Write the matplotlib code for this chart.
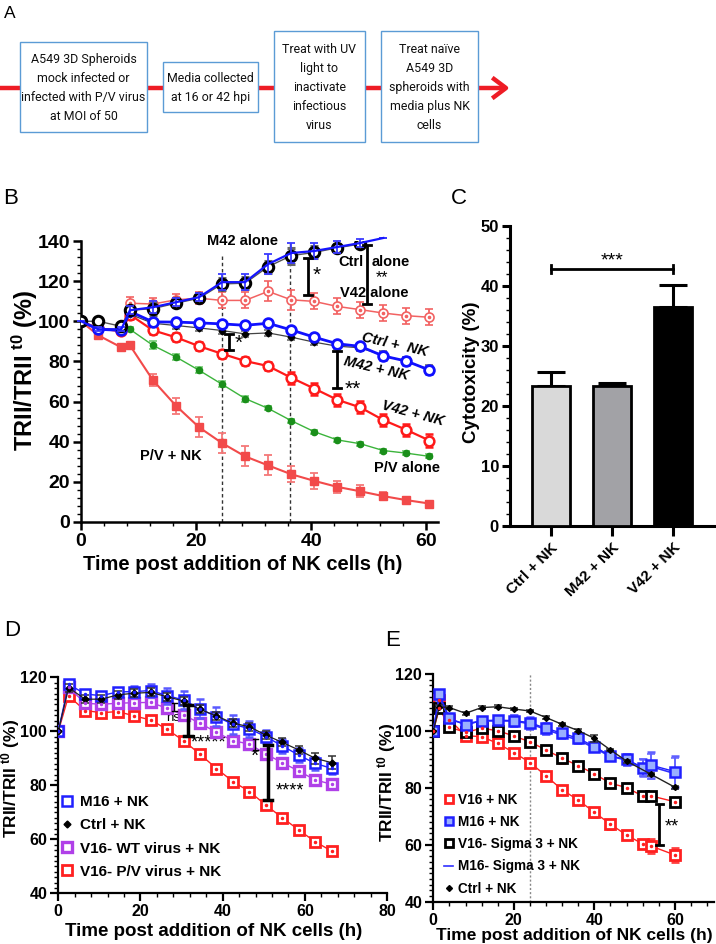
import matplotlib
matplotlib.use("Agg")
import matplotlib.pyplot as plt
from matplotlib.patches import Rectangle
from matplotlib.lines import Line2D
from matplotlib.ticker import MultipleLocator

plt.rcParams['font.family'] = ['Liberation Sans', 'DejaVu Sans']
plt.rcParams['font.weight'] = 'bold'
plt.rcParams['axes.labelweight'] = 'bold'
plt.rcParams['mathtext.fontset'] = 'custom'
plt.rcParams['mathtext.bf'] = 'Liberation Sans:bold'
plt.rcParams['mathtext.rm'] = 'Liberation Sans:bold'
plt.rcParams['mathtext.default'] = 'bf'

# ── panel A : workflow boxes ───────────────────────────────────────────────
steps = [
    "A549 3D Spheroids\nmock infected or\ninfected with P/V virus\nat MOI of 50",
    "Media collected\nat 16 or 42 hpi",
    "Treat with UV\nlight to\ninactivate\ninfectious\nvirus",
    "Treat naïve\nA549 3D\nspheroids with\nmedia plus NK\ncells",
]

# ── panel B : TRII/TRII t0 vs time ─────────────────────────────────────────
tB = [0, 3, 7, 8.5, 12.5, 16.5, 20.5, 24.5, 28.5, 32.5, 36.5, 40.5, 44.5, 48.5, 52.5, 56.5, 60.5]
ctrl_alone = [100, 100, 97.5, 105.5, 106.3, 109, 111.5, 118.6, 119, 127.2, 132.7, 134.3, 136.6, 138.5]
ctrl_alone_err = [0, 0.5, 1, 2, 3, 2, 2, 3, 3, 3, 4, 3, 2, 1]
m42_alone = [100, 96, 96, 105.5, 107, 109.5, 112, 119.5, 119.5, 128.5, 134, 135, 137, 139, 141.5]
m42_alone_err = [0, 1, 1, 2, 3, 2, 2, 4, 4, 5, 5, 4, 3, 2, 0]
v42_alone = [100, 96, 96, 109, 108.6, 110.7, 111.5, 110.4, 110.4, 114.9, 110.7, 109.9, 107.4, 105.8, 104.1, 102.8, 102]
v42_alone_err = [0, 1, 1, 3, 3, 3, 3, 4, 4, 5, 5, 4, 4, 4, 4, 4, 4]
ctrl_nk_B = [100, 96, 95.5, 104.9, 99.7, 99.6, 99.2, 98.7, 98, 99, 95.7, 92.1, 88.8, 87.5, 82.7, 80.2, 75.7]
ctrl_nk_B_err = [0, 1.5, 1.5, 2, 1.5, 1.5, 1.5, 1.5, 1.5, 1.5, 1.5, 1.5, 1.5, 1.5, 2, 2, 2]
m42_nk = [100, 96, 95.5, 103.5, 99, 97.9, 96.7, 95.4, 93.7, 94.2, 92.1, 89.6, 87.6, 86.8, 83, 80, 76]
m42_nk_err = [0, 1, 1, 2, 1.5, 1.5, 1.5, 1.5, 1.5, 1.5, 1.5, 1.5, 1.5, 1.5, 2, 2, 2]
v42_nk = [100, 96.5, 95, 103.3, 95.5, 92, 87.6, 83.8, 80.2, 77.7, 71.9, 66.5, 60.9, 57.1, 50.8, 45.9, 40.6]
v42_nk_err = [0, 1, 1, 2, 2, 2, 2, 2, 2, 2, 3, 3, 3, 3, 3, 3, 3]
pv_alone = [96, 88, 82.2, 75.6, 68.6, 61.5, 56.6, 50.5, 45, 40.9, 39, 35.6, 34.3, 32.7]
pv_alone_err = [1, 2, 1.5, 1.5, 1.5, 1.5, 1, 1, 1, 1, 1, 1, 1, 1]
pv_nk = [100, 93, 87, 88, 70.6, 57.9, 47.2, 39.3, 32.7, 28.2, 23.8, 20.5, 17.5, 15.3, 12.9, 10.9, 9.2]
pv_nk_err = [0, 1, 1, 1, 3, 4, 5, 5, 5, 5, 4, 4, 3, 3, 2, 1.5, 1.5]

# ── panel C : cytotoxicity bars ────────────────────────────────────────────
groups_C = ["Ctrl + NK", "M42 + NK", "V42 + NK"]
cyto = [23.3, 23.3, 36.5]
cyto_err = [2.3, 0.5, 3.6]

# ── panel D ────────────────────────────────────────────────────────────────
tD = [0, 2.5, 6.5, 10.5, 14.5, 18.5, 22.5, 26.5, 30.5, 34.5, 38.5, 42.5, 46.5, 50.5, 54.5, 58.5, 62.5, 66.5]
m16_D = [100, 117.5, 113.8, 113.2, 114.6, 114.7, 115.1, 113.2, 111.6, 108.3, 105.4, 102.6, 101, 98, 94.6, 91.2, 88.1, 86.3]
m16_D_err = [0, 1.5, 1.5, 1.5, 1.5, 2, 2.5, 3, 3.5, 3.5, 3.5, 3.5, 3, 2.5, 2.5, 2.5, 2.5, 2]
ctrl_D = [100, 116.2, 111.9, 111.9, 113.5, 114.1, 114.4, 112.8, 111.2, 108.1, 105.7, 103, 101.7, 98.6, 95.9, 93.1, 90, 88.4]
ctrl_D_err = [0, 1.5, 1.5, 1.5, 1.5, 1.5, 1.5, 1.5, 1.5, 1.5, 1.5, 1.5, 1.5, 1.5, 1.5, 1.5, 2, 2.5]
wt_D = [100, 116.3, 110.4, 110, 110.4, 110.6, 110.7, 108.5, 106, 103, 99.6, 96.5, 95.3, 91.6, 88.4, 85.3, 82, 80.4]
wt_D_err = [0, 1, 1, 1, 1, 1, 1, 1, 1, 1, 1, 1, 1, 1, 1, 1, 1, 1.2]
pv_D = [100, 113.1, 107.7, 106.9, 107.3, 105.7, 104.2, 100.7, 96.5, 91.5, 86.2, 81.4, 77.7, 72.7, 68, 63.5, 59.1, 55.7]
pv_D_err = [0, 0.8, 0.8, 0.8, 0.8, 0.8, 0.8, 0.8, 0.8, 0.8, 0.8, 0.8, 0.8, 0.8, 0.8, 0.8, 0.8, 0.8]

# ── panel E ────────────────────────────────────────────────────────────────
tE = [0, 1.5, 4, 8, 12, 16, 20, 24, 28, 32, 36, 40, 44, 48, 52, 54, 60]
v16_E = [100, 110.9, 104, 98.3, 98, 95.6, 92.4, 88.9, 84.2, 79.3, 75.7, 71.4, 67.2, 63.4, 60.3, 59.6, 56.4]
v16_E_err = [0, 1.5, 1.5, 1, 1, 1, 1, 1, 1.5, 1.5, 1, 1.5, 1.5, 1.5, 1.5, 2.5, 2.5]
m16_E = [100, 113, 104.4, 102.1, 103.6, 103.8, 103.6, 102.9, 100.9, 99.2, 97.4, 94.5, 91.2, 90, 87.1, 88, 85.7]
m16_E_err = [0, 1.5, 1, 1, 1, 1.5, 2, 2, 2, 1.5, 1.5, 1.5, 1.5, 2, 3, 4.5, 5.5]
v16sig_E = [100, 108, 101.3, 99.5, 100.9, 100.1, 98.2, 96.2, 93.3, 90.4, 87.8, 84.9, 81.6, 80.1, 77.1, 77.2, 75.1]
v16sig_E_err = [0, 1, 1.5, 1, 1, 1.5, 1.5, 1, 1.5, 1.5, 1, 1, 1, 1, 1, 1.5, 1]
m16sig_E = [100, 112, 104, 102.5, 103.5, 103.5, 103.5, 102.5, 100.5, 98.5, 96.8, 94, 91, 89.8, 87, 87.5, 85]
m16sig_E_err = [0, 1.5, 1, 1, 1, 1.5, 2, 2, 2, 1.5, 1.5, 1.5, 1.5, 2, 3, 4.5, 5.5]
tEc = [0, 1.5, 4, 8, 12, 16, 20, 24, 28, 32, 36, 40, 44, 48, 54, 60]
ctrl_E = [100, 108.5, 108.2, 106.2, 108.2, 108.5, 107.7, 107, 104.7, 102.3, 100.1, 97.4, 93.3, 89.4, 84.8, 80.2]
ctrl_E_err = [0, 0.5, 0.5, 0.5, 0.5, 0.5, 0.5, 0.5, 0.5, 0.5, 0.5, 1.2, 0.5, 0.5, 0.5, 0.5]

W, H = 716, 944
fig = plt.figure(figsize=(W / 100, H / 100), dpi=100)

YLAB = r"TRII/TRII$^{\ t0}$ (%)"
XLAB = "Time post addition of NK cells (h)"


def axes_px(left, top, right, bottom):
    return fig.add_axes([left / W, 1 - bottom / H, (right - left) / W, (bottom - top) / H])


def style_axes(ax, lw=1.6):
    for s in ("top", "right"):
        ax.spines[s].set_visible(False)
    for s in ("left", "bottom"):
        ax.spines[s].set_linewidth(lw)
    ax.tick_params(which="major", length=6, width=lw, direction="out")
    ax.tick_params(which="minor", length=3, width=1.0, direction="out")


def bold_ticks(ax):
    plt.setp(ax.get_xticklabels() + ax.get_yticklabels(), fontweight="bold")


def bracket(ax, x, y0, y1, lw=2.0, cap=0.8, color="black"):
    ax.plot([x, x], [y0, y1], color=color, lw=lw, solid_capstyle="butt", zorder=8)
    for y in (y0, y1):
        ax.plot([x - cap, x + cap], [y, y], color=color, lw=lw, zorder=8)


def place_labels(ax, xl, yl):
    ax.xaxis.set_label_coords(*xl)
    ax.xaxis.label.set_va("center")
    ax.yaxis.set_label_coords(*yl)
    ax.yaxis.label.set_va("center")


# ══ Panel A ═══════════════════════════════════════════════════════════════
axA = fig.add_axes([0, 0, 1, 1])
axA.set_xlim(0, W)
axA.set_ylim(H, 0)
axA.axis("off")
axA.patch.set_visible(False)
RED = "#ee1c25"
axA.plot([0, 505], [88, 88], color=RED, lw=3.2, solid_capstyle="butt", zorder=1)
axA.plot([494, 506, 494], [79, 88, 97], color=RED, lw=3.2, zorder=1)
boxes = [(20, 42, 147, 132), (163, 62, 258, 112), (274, 31, 365, 142), (381, 31, 478, 142)]
for (x0, y0, x1, y1), s in zip(boxes, steps):
    axA.add_patch(Rectangle((x0, y0), x1 - x0, y1 - y0, facecolor="white",
                            edgecolor="#5b9bd5", lw=1.0, zorder=2))
    axA.text((x0 + x1) / 2, (y0 + y1) / 2 + 1, s, ha="center", va="center", fontsize=8.9,
             family=["Liberation Sans Narrow", "Roboto"], fontweight="normal",
             linespacing=1.62, zorder=3, color="#111111")

for x, y, s, fs in [(4, 13, "A", 12.5), (3, 198, "B", 16), (451, 198, "C", 16),
                    (4, 631, "D", 16), (385, 641, "E", 16)]:
    fig.text(x / W, 1 - y / H, s, fontsize=fs, fontweight="normal", va="center", ha="left")

# ══ Panel B ═══════════════════════════════════════════════════════════════
axB = axes_px(81, 241, 438, 522)
axB.set_xlim(0, 62)
axB.set_ylim(0, 140)
style_axes(axB, lw=1.8)
axB.xaxis.set_major_locator(MultipleLocator(20))
axB.xaxis.set_minor_locator(MultipleLocator(4))
axB.yaxis.set_major_locator(MultipleLocator(20))
axB.yaxis.set_minor_locator(MultipleLocator(4))
axB.tick_params(labelsize=14, pad=2)
bold_ticks(axB)
axB.set_xlabel(XLAB, fontsize=14.5)
axB.set_ylabel(YLAB, fontsize=17)
place_labels(axB, (0.454, -0.153), (-0.158, 0.54))

axB.plot([24.5, 24.5], [0, 133], ls=(0, (2.5, 2)), color="#333333", lw=1, zorder=1)
axB.plot([36.3, 36.3], [0, 140], ls=(0, (2.5, 2)), color="#333333", lw=1, zorder=1)

ekw = dict(capsize=3, elinewidth=1.3, capthick=1.3)
axB.errorbar(tB[3:], pv_alone, yerr=pv_alone_err, color="#3cb43c", lw=1, marker="o", ms=4.5,
             mfc="#1a8f1a", mec="#1a8f1a", ecolor="#7fd07f", zorder=3, **ekw)
axB.errorbar(tB, pv_nk, yerr=pv_nk_err, color="#f24a4a", lw=1.5, marker="s", ms=6,
             mfc="#f24a4a", mec="#f24a4a", ecolor="#f57878", zorder=3, **ekw)
axB.errorbar(tB, v42_alone, yerr=v42_alone_err, color="#f26262", lw=1.1, marker="o", ms=6.5,
             mfc="white", mec="#f26262", mew=1.2, ecolor="#f26262", zorder=3, **ekw)
axB.plot(tB, v42_alone, ls="none", marker="o", ms=1.6, color="#f26262", zorder=4)
axB.errorbar(tB, v42_nk, yerr=v42_nk_err, color="#ff1a1a", lw=1.6, marker="o", ms=7,
             mfc="white", mec="#ff1a1a", mew=1.8, ecolor="#ff1a1a", zorder=4, **ekw)
axB.errorbar(tB, m42_nk, yerr=m42_nk_err, color="#444444", lw=0.9, marker="D", ms=3.5,
             mfc="black", mec="black", ecolor="#777777", zorder=4, **ekw)
axB.errorbar(tB, ctrl_nk_B, yerr=ctrl_nk_B_err, color="#1010ff", lw=2, marker="o", ms=7,
             mfc="white", mec="#1010ff", mew=2, ecolor="#4040ff", zorder=5, **ekw)
axB.errorbar(tB[:14], ctrl_alone, yerr=ctrl_alone_err, color="#555555", lw=1, marker="o", ms=7.5,
             mfc="white", mec="black", mew=2.2, ecolor="#666666", zorder=5, **ekw)
axB.errorbar(tB[:15], m42_alone, yerr=m42_alone_err, color="#1515ff", lw=1.6, ecolor="#3a3aff",
             zorder=6, clip_on=False, **ekw)

tkw = dict(fontsize=10.5, fontweight="bold", va="center")
axB.text(28.1, 140, "M42 alone", ha="center", **tkw)
axB.text(49.0, 129.3, "Ctrl", ha="right", **tkw)
axB.text(50.4, 129.3, "alone", ha="left", **tkw)
axB.text(50.9, 114.0, "V42 alone", ha="center", **tkw)
axB.text(56.6, 26.9, "P/V alone", ha="center", **tkw)
axB.text(15.6, 32.9, "P/V + NK", ha="center", **tkw)
axB.text(54.5, 88.2, "Ctrl +  NK", rotation=-13, style="italic", ha="center", **tkw)
axB.text(51.2, 76.5, "M42 + NK", rotation=-13, style="italic", ha="center", **tkw)
axB.text(57.6, 54.3, "V42 + NK", rotation=-15, style="italic", ha="center", **tkw)
bracket(axB, 39.5, 113.2, 131.6, cap=0.7)
bracket(axB, 49.65, 108.6, 137.9, cap=0.7)
bracket(axB, 25.7, 85.5, 93.5, cap=0.7)
bracket(axB, 44.4, 67, 85, cap=0.7)
skw = dict(fontsize=15, fontweight="normal", ha="center", va="center")
axB.text(41.0, 123.0, "*", **skw)
axB.text(52.3, 121.6, "**", fontsize=11.5, fontweight="normal", ha="center", va="center")
axB.text(27.4, 89.0, "*", **skw)
axB.text(47.2, 66.0, "**", **skw)

# ══ Panel C ═══════════════════════════════════════════════════════════════
axC = axes_px(510, 225.7, 716, 526)
axC.set_xlim(-0.67, 2.7)
axC.set_ylim(0, 50)
style_axes(axC, lw=2.2)
axC.yaxis.set_major_locator(MultipleLocator(10))
axC.yaxis.set_minor_locator(MultipleLocator(2))
axC.tick_params(axis="x", length=7, width=2.2)
xC = list(range(len(groups_C)))
axC.bar(xC, cyto, width=0.63, color=["#d9d9d9", "#a2a2a6", "#000000"], edgecolor="black",
        lw=2, zorder=3)
axC.errorbar(xC, cyto, yerr=[[0, 0, 0], cyto_err], fmt="none", ecolor="black", elinewidth=2.2,
             capsize=10, capthick=2.2, zorder=2)
axC.set_xticks(xC)
axC.set_xticklabels(groups_C, rotation=45, ha="right", va="top", rotation_mode="anchor",
                    fontsize=11)
axC.tick_params(axis="y", labelsize=12, pad=2)
bold_ticks(axC)
axC.set_ylabel("Cytotoxicity (%)", fontsize=13.5)
axC.yaxis.set_label_coords(-0.186, 0.513)
axC.yaxis.label.set_va("center")
axC.plot([0, 2], [42.8, 42.8], color="black", lw=2, zorder=4)
axC.plot([0, 0], [42.2, 43.4], color="black", lw=2)
axC.plot([2, 2], [42.2, 43.4], color="black", lw=2)
axC.text(1, 44.2, "***", fontsize=14, fontweight="normal", ha="center", va="center")

# ══ Panel D ═══════════════════════════════════════════════════════════════
axD = axes_px(58.3, 677.3, 387, 893.3)
axD.set_xlim(0, 80)
axD.set_ylim(40, 120)
style_axes(axD, lw=1.6)
axD.xaxis.set_major_locator(MultipleLocator(20))
axD.xaxis.set_minor_locator(MultipleLocator(4))
axD.yaxis.set_major_locator(MultipleLocator(20))
axD.yaxis.set_minor_locator(MultipleLocator(2))
axD.tick_params(labelsize=11.5, pad=2)
bold_ticks(axD)
axD.set_xlabel(XLAB, fontsize=13.5)
axD.set_ylabel(YLAB, fontsize=12.5)
place_labels(axD, (0.474, -0.179), (-0.146, 0.534))

dkw = dict(capsize=3, elinewidth=1.1, capthick=1.1)
axD.errorbar(tD, pv_D, yerr=pv_D_err, color="#ff2020", lw=1, marker="s", ms=6.5, mfc="white",
             mec="#ff2020", mew=2, ecolor="#ff2020", zorder=3, **dkw)
axD.errorbar(tD, wt_D, yerr=wt_D_err, color="#b040e8", lw=1, marker="s", ms=7, mfc="white",
             mec="#b040e8", mew=2.4, ecolor="#c070f0", zorder=3, **dkw)
axD.errorbar(tD, m16_D, yerr=m16_D_err, color="#2020ff", lw=1, marker="s", ms=7.5, mfc="white",
             mec="#2020ff", mew=1.8, ecolor="#5a5aff", zorder=4, **dkw)
axD.errorbar(tD, ctrl_D, yerr=ctrl_D_err, color="#222222", lw=0.9, marker="D", ms=3.5,
             mfc="black", mec="black", ecolor="#333333", zorder=5, **dkw)
for t, v, c in [(tD, pv_D, "#ff2020"), (tD, wt_D, "#b040e8"), (tD, m16_D, "#2020ff")]:
    axD.plot(t, v, ls="none", marker="o", ms=1.5, color=c, zorder=6)

bracket(axD, 28.2, 107.5, 110.5, lw=1.0, cap=0.6)
bracket(axD, 31.6, 98.4, 109.8, lw=2.5, cap=1.0)
bracket(axD, 47.9, 93, 97, lw=1.0, cap=0.6)
bracket(axD, 51.1, 74.6, 95, lw=2.5, cap=1.0)
axD.text(27.9, 105.0, "ns", fontsize=9.5, fontweight="normal", ha="center", va="center")
axD.text(36.5, 95.8, "*****", fontsize=13, fontweight="normal", ha="center", va="center")
axD.text(47.8, 90.8, "*", fontsize=15, fontweight="normal", ha="center", va="center")
axD.text(56.3, 78.0, "****", fontsize=13, fontweight="normal", ha="center", va="center")

hD = [Line2D([], [], ls="none", marker="s", ms=6.5, mfc="white", mec="#2020ff", mew=1.8),
      Line2D([], [], ls="none", marker="D", ms=3.5, color="black"),
      Line2D([], [], ls="none", marker="s", ms=6.5, mfc="white", mec="#b040e8", mew=2.4),
      Line2D([], [], ls="none", marker="s", ms=6.5, mfc="white", mec="#ff2020", mew=2)]
axD.legend(hD, ["M16 + NK", "Ctrl + NK", "V16- WT virus + NK", "V16- P/V virus + NK"],
           loc="lower left", bbox_to_anchor=(0.0, 0.053), frameon=False, fontsize=11,
           handlelength=0.8, handletextpad=0.4, labelspacing=0.6, borderpad=0.2,
           borderaxespad=0)

# ══ Panel E ═══════════════════════════════════════════════════════════════
axE = axes_px(433.3, 674, 714, 901.7)
axE.set_xlim(0, 69.7)
axE.set_ylim(40, 120)
style_axes(axE, lw=1.6)
axE.xaxis.set_major_locator(MultipleLocator(20))
axE.xaxis.set_minor_locator(MultipleLocator(4))
axE.yaxis.set_major_locator(MultipleLocator(20))
axE.yaxis.set_minor_locator(MultipleLocator(2))
axE.tick_params(labelsize=11.5, pad=2)
bold_ticks(axE)
axE.set_xlabel(XLAB, fontsize=12.5)
axE.set_ylabel(YLAB, fontsize=12.5)
place_labels(axE, (0.501, -0.147), (-0.167, 0.526))
axE.plot([24, 24], [40, 120], ls=(0, (1.5, 1.5)), color="#888888", lw=1, zorder=1)

axE.errorbar(tE, v16_E, yerr=v16_E_err, color="#ff2020", lw=1, marker="s", ms=6.5, mfc="white",
             mec="#ff2020", mew=2, ecolor="#ff4040", zorder=3, **dkw)
axE.errorbar(tE, v16sig_E, yerr=v16sig_E_err, color="#ff2020", lw=1, marker="s", ms=7, mfc="white",
             mec="black", mew=2, ecolor="#ff4040", zorder=3, **dkw)
axE.errorbar(tE, m16sig_E, yerr=m16sig_E_err, color="#3030ff", lw=1.2, ecolor="#6060ff",
             zorder=4, **dkw)
axE.errorbar(tE, m16_E, yerr=m16_E_err, color="#2020ff", lw=1, marker="s", ms=7.5, mfc="#9ab0ff",
             mec="#2020ff", mew=1.8, ecolor="#6060ff", zorder=4, **dkw)
axE.errorbar(tEc, ctrl_E, yerr=ctrl_E_err, color="#222222", lw=1, marker="D", ms=3,
             mfc="black", mec="black", ecolor="#333333", zorder=5, **dkw)
for t, v, c in [(tE, v16_E, "#ff2020"), (tE, v16sig_E, "#ff2020")]:
    axE.plot(t, v, ls="none", marker="o", ms=1.5, color=c, zorder=6)

bracket(axE, 56.1, 60, 74.3, lw=2.0, cap=0.9)
axE.text(59.3, 66.3, "**", fontsize=13, fontweight="normal", ha="center", va="center")

hE = [Line2D([], [], ls="none", marker="s", ms=5.5, mfc="white", mec="#ff2020", mew=2),
      Line2D([], [], ls="none", marker="s", ms=5.5, mfc="#9ab0ff", mec="#2020ff", mew=1.8),
      Line2D([], [], ls="none", marker="s", ms=5.5, mfc="white", mec="black", mew=2),
      Line2D([], [], color="#3030ff", lw=1.2),
      Line2D([], [], ls="none", marker="D", ms=3, color="black")]
axE.legend(hE, ["V16 + NK", "M16 + NK", "V16- Sigma 3 + NK", "M16- Sigma 3 + NK", "Ctrl + NK"],
           loc="lower left", bbox_to_anchor=(0.03, 0.015), frameon=False, fontsize=9.8,
           handlelength=0.6, handletextpad=0.4, labelspacing=0.6, borderpad=0.2,
           borderaxespad=0)

fig.savefig("out.png", dpi=100)
